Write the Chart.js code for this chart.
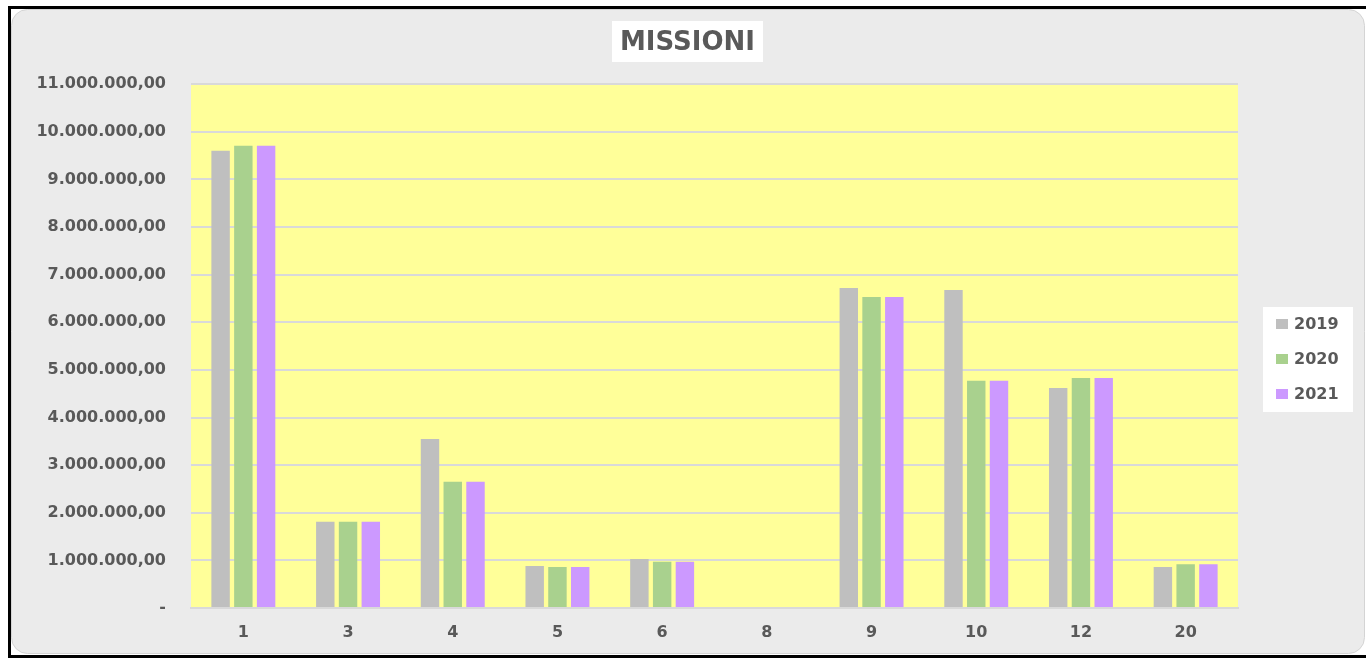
<!DOCTYPE html>
<html>
<head>
<meta charset="utf-8">
<script src="https://cdn.jsdelivr.net/npm/chart.js@4.4.1/dist/chart.umd.min.js"></script>
<style>
  html, body { margin: 0; padding: 0; background: #ffffff; }
  #wrap { width: 1366px; height: 658px; position: relative; }
</style>
</head>
<body>
<div id="wrap"><canvas id="c" width="1366" height="658"></canvas></div>
<script>
const categories = ['1', '3', '4', '5', '6', '8', '9', '10', '12', '20'];
const seriesNames = ['2019', '2020', '2021'];
const values2019 = [9600000, 1810000, 3550000, 880000, 1030000, 0, 6720000, 6680000, 4620000, 860000];
const values2020 = [9710000, 1810000, 2650000, 860000, 970000, 0, 6530000, 4770000, 4830000, 920000];
const values2021 = [9710000, 1810000, 2650000, 860000, 970000, 0, 6530000, 4770000, 4830000, 920000];
const yTickLabels = ['-', '1.000.000,00', '2.000.000,00', '3.000.000,00', '4.000.000,00', '5.000.000,00',
  '6.000.000,00', '7.000.000,00', '8.000.000,00', '9.000.000,00', '10.000.000,00', '11.000.000,00'];
const chartTitle = 'MISSIONI';

const colors = ['#bfbfbf', '#a9d18e', '#cc99ff'];
const FONT = "'DejaVu Sans', sans-serif";

const decorPlugin = {
  id: 'decor',
  beforeDraw(chart) {
    const ctx = chart.ctx;
    const W = chart.width, H = chart.height;
    ctx.save();
    ctx.fillStyle = '#ffffff';
    ctx.fillRect(0, 0, W, H);
    ctx.strokeStyle = '#000000';
    ctx.lineWidth = 3;
    ctx.strokeRect(9.5, 7.5, W + 10, H - 9);
    ctx.beginPath();
    ctx.roundRect(11.5, 9.5, W - 13, H - 14, 16);
    ctx.fillStyle = '#ebebeb';
    ctx.fill();
    ctx.strokeStyle = '#d4d4d4';
    ctx.lineWidth = 1;
    ctx.stroke();
    const a = chart.chartArea;
    ctx.fillStyle = '#ffff99';
    ctx.fillRect(a.left, a.top, a.right - a.left, a.bottom - a.top);
    const tb = chart.titleBlock;
    if (tb) {
      ctx.font = 'bold 26px ' + FONT;
      const tw = ctx.measureText(chartTitle).width;
      const cx = (tb.left + tb.right) / 2;
      ctx.fillStyle = '#ffffff';
      ctx.fillRect(cx - tw / 2 - 8, 21, tw + 16, 41);
    }
    ctx.restore();
  },
  afterDraw(chart) {
    const ctx = chart.ctx;
    ctx.save();
    ctx.fillStyle = '#ffffff';
    ctx.fillRect(1263, 307, 90, 105);
    ctx.font = 'bold 16px ' + FONT;
    ctx.textBaseline = 'middle';
    ctx.textAlign = 'left';
    const ys = [324, 359, 394];
    chart.data.datasets.forEach((ds, i) => {
      ctx.fillStyle = ds.backgroundColor;
      ctx.fillRect(1276, ys[i] - 5, 12, 10);
      ctx.fillStyle = '#595959';
      ctx.fillText(ds.label, 1294, ys[i] + 1);
    });
    ctx.restore();
  }
};

const datasets = [values2019, values2020, values2021].map((vals, i) => ({
  label: seriesNames[i],
  data: vals,
  backgroundColor: colors[i],
  borderWidth: 0,
  categoryPercentage: 0.652,
  barPercentage: 0.81
}));

new Chart(document.getElementById('c'), {
  type: 'bar',
  data: { labels: categories, datasets: datasets },
  options: {
    responsive: false,
    animation: false,
    devicePixelRatio: 1,
    layout: { padding: { top: 0, left: 9, right: 0, bottom: 0 } },
    plugins: {
      legend: { display: false },
      tooltip: { enabled: false },
      title: {
        display: true,
        text: chartTitle,
        color: '#595959',
        font: { family: FONT, size: 26, weight: 'bold', lineHeight: 1.2 },
        padding: { top: 28, bottom: 25 }
      }
    },
    scales: {
      x: {
        grid: { display: false, drawTicks: false },
        border: { display: true, color: '#d9d9d9', width: 2 },
        ticks: { color: '#595959', font: { family: FONT, size: 16, weight: 'bold' }, padding: 15, maxRotation: 0 },
        afterFit(scale) { scale.height = 50; }
      },
      y: {
        min: 0,
        max: 11000000,
        grid: { color: '#d9d9d9', lineWidth: 2, drawTicks: false },
        border: { display: false },
        ticks: {
          stepSize: 1000000,
          color: '#595959',
          font: { family: FONT, size: 16, weight: 'bold' },
          padding: 25,
          callback: (v) => yTickLabels[Math.round(v / 1000000)]
        },
        afterFit(scale) { scale.width = 182; }
      },
      yRight: {
        position: 'right',
        display: true,
        grid: { display: false, drawTicks: false },
        border: { display: false },
        ticks: { display: false },
        afterFit(scale) { scale.width = 128; }
      }
    }
  },
  plugins: [decorPlugin]
});
</script>
</body>
</html>
